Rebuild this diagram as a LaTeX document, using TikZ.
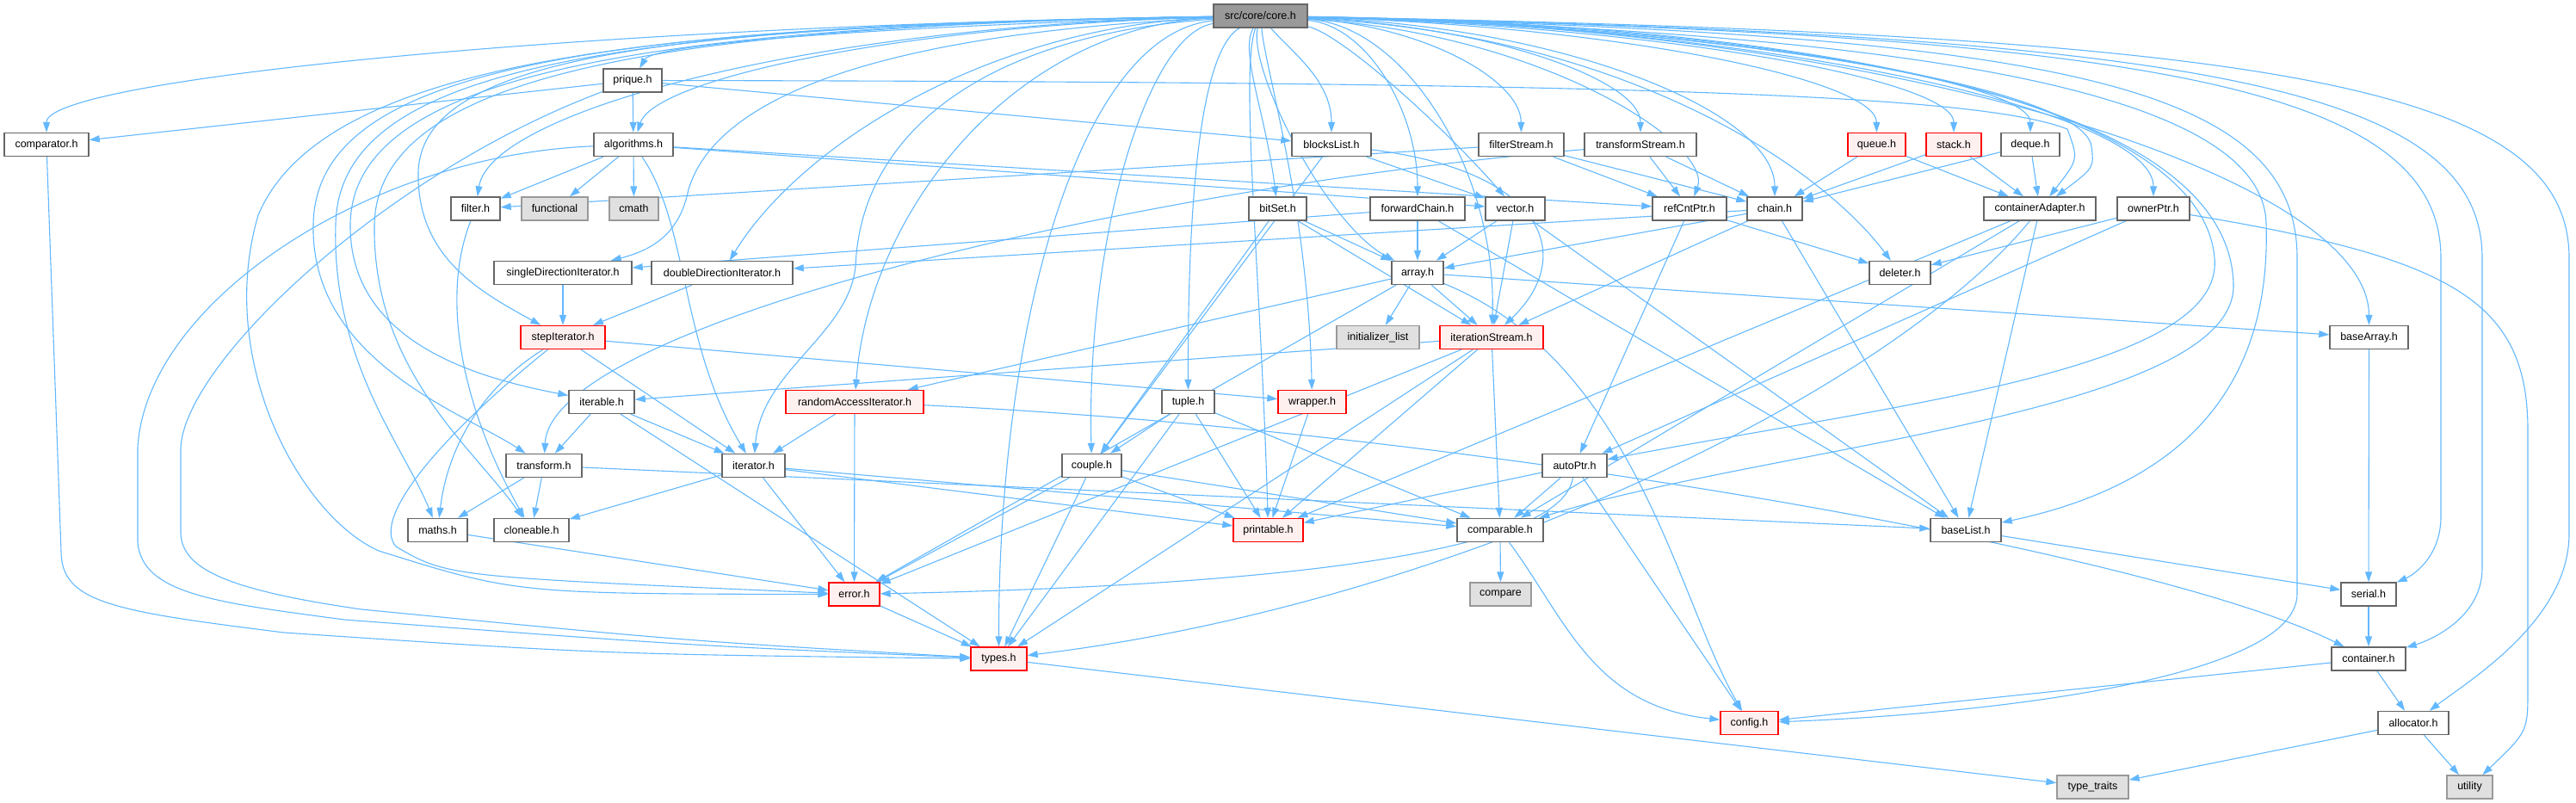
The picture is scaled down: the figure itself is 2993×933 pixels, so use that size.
\documentclass[tikz,border=0pt]{standalone}
\usepackage{fontspec}
\setmainfont{Liberation Sans}
\usetikzlibrary{arrows.meta}
\definecolor{eb}{HTML}{63B8FF}
\definecolor{gfour}{HTML}{666666}
\definecolor{gsix}{HTML}{999999}
\definecolor{gsys}{HTML}{E0E0E0}
\definecolor{pinkbg}{HTML}{FFF0F0}
\definecolor{redb}{HTML}{FF0000}
\pgfdeclarelayer{bg}
\pgfsetlayers{bg,main}
\tikzset{
 nd/.style={draw=gfour, fill=white, line width=1.4pt, minimum height=27pt, inner sep=0pt, font=\fontsize{12.5pt}{14pt}\selectfont},
 rd/.style={nd, draw=redb, fill=pinkbg},
 sys/.style={nd, draw=gsix, fill=gsys},
 topn/.style={nd, fill=gsix, draw=gfour},
 e/.style={draw=eb, line width=1.1pt, -{Triangle[length=12pt,width=8pt]}}
}
\begin{document}
\begin{tikzpicture}[x=1pt,y=-1pt]
\useasboundingbox (0,0) rectangle (2993,933);
% row 0
\node[topn, minimum width=109pt] (core) at (1464.5,18.5) {src/core/core.h};
% row 1
\node[nd, minimum width=68pt] (prique) at (735,93.5) {prique.h};
% row 2
\node[nd, minimum width=98pt] (comparator) at (54,168) {comparator.h};
\node[nd, minimum width=92pt] (algorithms) at (736,168) {algorithms.h};
\node[nd, minimum width=92pt] (blocksList) at (1547,168) {blocksList.h};
\node[nd, minimum width=99pt] (filterStream) at (1767.5,168) {filterStream.h};
\node[nd, minimum width=130pt] (transformStream) at (1906,168) {transformStream.h};
\node[rd, minimum width=67pt] (queue) at (2180.5,168) {queue.h};
\node[rd, minimum width=64pt] (stack) at (2270,168) {stack.h};
\node[nd, minimum width=68pt] (deque) at (2359,168) {deque.h};
% row 3
\node[nd, minimum width=57pt] (filter) at (552.5,242.5) {filter.h};
\node[sys, minimum width=77pt] (functional) at (644.5,242.5) {functional};
\node[sys, minimum width=57pt] (cmath) at (736.5,242.5) {cmath};
\node[nd, minimum width=67pt] (bitSet) at (1484.5,242.5) {bitSet.h};
\node[nd, minimum width=110pt] (forwardChain) at (1647,242.5) {forwardChain.h};
\node[nd, minimum width=69pt] (vector) at (1760.5,242.5) {vector.h};
\node[nd, minimum width=86pt] (refCntPtr) at (1963,242.5) {refCntPtr.h};
\node[nd, minimum width=64pt] (chain) at (2062,242.5) {chain.h};
\node[nd, minimum width=130pt] (containerAdapter) at (2370,242.5) {containerAdapter.h};
\node[nd, minimum width=84pt] (ownerPtr) at (2502,242.5) {ownerPtr.h};
% row 4
\node[nd, minimum width=160pt] (singleDirectionIterator) at (654,317) {singleDirectionIterator.h};
\node[nd, minimum width=164pt] (doubleDirectionIterator) at (839,317) {doubleDirectionIterator.h};
\node[nd, minimum width=60pt] (array) at (1647,317) {array.h};
\node[nd, minimum width=71pt] (deleter) at (2207.5,317) {deleter.h};
% row 5
\node[rd, minimum width=98pt] (stepIterator) at (654,392) {stepIterator.h};
\node[sys, minimum width=96pt] (initializerlist) at (1601,392) {initializer\_list};
\node[rd, minimum width=120pt] (iterationStream) at (1733,392) {iterationStream.h};
\node[nd, minimum width=91pt] (baseArray) at (2752.5,392) {baseArray.h};
% row 6
\node[nd, minimum width=76pt] (iterable) at (699,467) {iterable.h};
\node[rd, minimum width=160pt] (randomAccessIterator) at (993,467) {randomAccessIterator.h};
\node[nd, minimum width=61pt] (tuple) at (1380.5,467) {tuple.h};
\node[rd, minimum width=79pt] (wrapper) at (1524.5,467) {wrapper.h};
% row 7
\node[nd, minimum width=88pt] (transform) at (632,541) {transform.h};
\node[nd, minimum width=73pt] (iterator) at (875.5,541) {iterator.h};
\node[nd, minimum width=69pt] (couple) at (1268.5,541) {couple.h};
\node[nd, minimum width=75pt] (autoPtr) at (1829.5,541) {autoPtr.h};
% row 8
\node[nd, minimum width=69pt] (maths) at (508.5,616) {maths.h};
\node[nd, minimum width=87pt] (cloneable) at (617.5,616) {cloneable.h};
\node[rd, minimum width=81pt] (printable) at (1473.5,616) {printable.h};
\node[nd, minimum width=100pt] (comparable) at (1743,616) {comparable.h};
\node[nd, minimum width=82pt] (baseList) at (2284,616) {baseList.h};
% row 9
\node[rd, minimum width=59pt] (error) at (992.5,690.5) {error.h};
\node[sys, minimum width=71pt] (compare) at (1743.5,690.5) {compare};
\node[nd, minimum width=64pt] (serial) at (2752,690.5) {serial.h};
% row 10
\node[rd, minimum width=65pt] (types) at (1160.5,765.5) {types.h};
\node[nd, minimum width=86pt] (container) at (2752,765.5) {container.h};
% row 11
\node[rd, minimum width=67pt] (config) at (2032.5,840) {config.h};
\node[nd, minimum width=82pt] (allocator) at (2804,840) {allocator.h};
% row 12
\node[sys, minimum width=83pt] (typetraits) at (2431.5,914.5) {type\_traits};
\node[sys, minimum width=53pt] (utility) at (2869.5,914.5) {utility};

\begin{pgfonlayer}{bg}
% ---- core.h edges (left) ----
\draw[e] (core) .. controls (1039,30) and (760,50) .. (prique);
\draw[e] (core) .. controls (664,30) and (54,93) .. (comparator);
\draw[e] (core) .. controls (1039,30) and (760,93) .. (algorithms);
\draw[e] (core) .. controls (938,30) and (570,130) .. (filter);
\draw[e] (core) .. controls (1000,40) and (830,120) .. (800,220) .. controls (790,270) and (760,290) .. (singleDirectionIterator);
\draw[e] (core) .. controls (1150,30) and (930,168) .. (doubleDirectionIterator);
\draw[e] (core) .. controls (800,30) and (490,60) .. (486,200) .. controls (484,300) and (560,340) .. (stepIterator);
\draw[e] (core) .. controls (730,30) and (410,90) .. (407,260) .. controls (405,400) and (560,440) .. (iterable);
\draw[e] (core) .. controls (1181,30) and (1010,243) .. (randomAccessIterator);
\draw[e] (core) .. controls (1393,60) and (1380,243) .. (tuple);
\draw[e] (core) .. controls (680,30) and (368,80) .. (364,260) .. controls (360,420) and (540,480) .. (transform);
\draw[e] (core) .. controls (1150,40) and (1000,150) .. (994,310) .. controls (985,390) and (885,430) .. (iterator);
\draw[e] (core) .. controls (1332,40) and (1262,280) .. (couple);
\draw[e] (core) .. controls (700,30) and (395,80) .. (390,260) .. controls (385,420) and (470,520) .. (maths);
\draw[e] (core) .. controls (750,30) and (440,90) .. (435,260) .. controls (432,430) and (550,520) .. (cloneable);
\draw[e] (core) .. controls (1250,40) and (1160,390) .. (types);
\draw[e] (core) .. controls (800,30) and (380,60) .. (300,250) .. controls (250,420) and (350,600) .. (440,640) .. controls (600,690) .. (error);
% ---- core.h edges (middle) ----
\draw[e] (core) .. controls (1440,60) and (1470,130) .. (bitSet);
\draw[e] (core) .. controls (1500,60) and (1547,93) .. (blocksList);
\draw[e] (core) .. controls (1440,80) and (1465,317) .. (printable);
\draw[e] (core) .. controls (1470,80) and (1520,243) .. (wrapper);
\draw[e] (core) .. controls (1450,80) and (1540,260) .. (array);
% ---- core.h edges (right) ----
\draw[e] (core) .. controls (1655,30) and (1767,93) .. (filterStream);
\draw[e] (core) .. controls (1732,30) and (1906,93) .. (transformStream);
\draw[e] (core) .. controls (1882,30) and (2180,93) .. (queue);
\draw[e] (core) .. controls (1932,30) and (2270,93) .. (stack);
\draw[e] (core) .. controls (1981,30) and (2359,93) .. (deque);
\draw[e] (core) .. controls (1589,30) and (1647,130) .. (forwardChain);
\draw[e] (core) .. controls (1560,40) and (1680,150) .. (vector);
\draw[e] (core) .. controls (1800,40) and (1990,170) .. (refCntPtr);
\draw[e] (core) .. controls (1818,30) and (2062,130) .. (chain);
\draw[e] (core) .. controls (2000,30) and (2420,100) .. (2430,170) .. controls (2433,195) .. (containerAdapter);
\draw[e] (core) .. controls (2060,30) and (2502,130) .. (ownerPtr);
\draw[e] (core) .. controls (1900,40) and (2120,200) .. (deleter);
\draw[e] (core) .. controls (1637,30) and (1740,205) .. (iterationStream);
\draw[e] (core) .. controls (2197,30) and (2752,205) .. (baseArray);
\draw[e] (core) .. controls (2200,30) and (2560,140) .. (2573,300) .. controls (2585,430) and (2200,470) .. (autoPtr);
\draw[e] (core) .. controls (2250,35) and (2590,150) .. (2595,330) .. controls (2600,480) and (2050,520) .. (comparable);
\draw[e] (core) .. controls (2300,40) and (2630,120) .. (2633,260) .. controls (2640,480) and (2500,570) .. (baseList);
\draw[e] (core) .. controls (2400,40) and (2669,100) .. (2669,300) -- (2669,690) .. controls (2669,790) and (2300,830) .. (config);
\draw[e] (core) .. controls (2500,40) and (2836,100) .. (2836,300) -- (2836,600) .. controls (2836,650) and (2800,670) .. (serial);
\draw[e] (core) .. controls (2550,40) and (2884,100) .. (2884,300) -- (2884,660) .. controls (2884,720) and (2820,745) .. (container);
\draw[e] (core) .. controls (2650,40) and (2985,100) .. (2985,300) -- (2985,620) .. controls (2985,720) and (2870,790) .. (allocator);
% ---- other edges ----
\draw[e] (prique) -- (comparator);
\draw[e] (prique) -- (algorithms);
\draw[e] (prique) -- (blocksList);
\draw[e] (prique) .. controls (1900,95) and (2300,110) .. (2402,150) .. controls (2415,185) .. (containerAdapter);
\draw[e] (prique) .. controls (450,200) and (215,420) .. (210,520) -- (210,620) .. controls (212,660) and (260,685) .. (420,708) .. controls (800,745) .. (types);
\draw[e] (comparator) -- (71,640) .. controls (71,700) and (130,710) .. (330,735) .. controls (700,760) .. (types);
\draw[e] (algorithms) -- (filter);
\draw[e] (algorithms) -- (functional);
\draw[e] (algorithms) -- (cmath);
\draw[e] (algorithms) -- (refCntPtr);
\draw[e] (algorithms) -- (vector);
\draw[e] (algorithms) .. controls (800,260) and (790,400) .. (iterator);
\draw[e] (algorithms) .. controls (430,180) and (170,350) .. (160,520) -- (160,630) .. controls (165,690) and (250,700) .. (400,720) .. controls (800,750) .. (types);
\draw[e] (blocksList) -- (vector);
\draw[e] (blocksList) -- (couple);
\draw[e] (blocksList) .. controls (1800,200) and (1830,300) .. (iterationStream);
\draw[e] (filterStream) -- (filter);
\draw[e] (filterStream) -- (refCntPtr);
\draw[e] (filterStream) -- (chain);
\draw[e] (transformStream) .. controls (1300,220) and (640,380) .. (transform);
\draw[e] (transformStream) -- (refCntPtr);
\draw[e] (transformStream) -- (chain);
\draw[e] (queue) -- (chain);
\draw[e] (queue) -- (containerAdapter);
\draw[e] (stack) -- (chain);
\draw[e] (stack) -- (containerAdapter);
\draw[e] (deque) -- (chain);
\draw[e] (deque) -- (containerAdapter);
\draw[e] (filter) .. controls (510,350) and (540,480) .. (cloneable);
\draw[e] (bitSet) -- (array);
\draw[e] (bitSet) -- (couple);
\draw[e] (bitSet) -- (iterationStream);
\draw[e] (forwardChain) -- (singleDirectionIterator);
\draw[e] (forwardChain) -- (array);
\draw[e] (forwardChain) -- (baseList);
\draw[e] (vector) -- (array);
\draw[e] (vector) -- (iterationStream);
\draw[e] (vector) -- (baseList);
\draw[e] (refCntPtr) -- (autoPtr);
\draw[e] (refCntPtr) -- (deleter);
\draw[e] (chain) -- (doubleDirectionIterator);
\draw[e] (chain) -- (array);
\draw[e] (chain) -- (iterationStream);
\draw[e] (chain) -- (baseList);
\draw[e] (containerAdapter) -- (baseList);
\draw[e] (containerAdapter) .. controls (2200,450) and (1700,700) .. (types);
\draw[e] (containerAdapter) -- (printable);
\draw[e] (containerAdapter) -- (comparable);
\draw[e] (ownerPtr) -- (deleter);
\draw[e] (ownerPtr) -- (autoPtr);
\draw[e] (ownerPtr) .. controls (2850,300) and (2937,350) .. (2937,500) -- (2937,800) .. controls (2937,850) .. (utility);
\draw[e] (singleDirectionIterator) -- (stepIterator);
\draw[e] (doubleDirectionIterator) -- (stepIterator);
\draw[e] (array) -- (initializerlist);
\draw[e] (array) -- (iterationStream);
\draw[e] (array) -- (randomAccessIterator);
\draw[e] (array) -- (baseArray);
\draw[e] (array) .. controls (1900,420) and (1950,700) .. (config);
\draw[e] (array) -- (error);
\draw[e] (stepIterator) -- (iterator);
\draw[e] (stepIterator) .. controls (560,450) and (520,520) .. (maths);
\draw[e] (stepIterator) .. controls (520,500) and (430,600) .. (460,635) .. controls (520,670) .. (error);
\draw[e] (stepIterator) -- (wrapper);
\draw[e] (iterationStream) -- (iterable);
\draw[e] (iterationStream) -- (comparable);
\draw[e] (iterationStream) -- (printable);
\draw[e] (iterationStream) -- (types);
\draw[e] (iterationStream) -- (error);
\draw[e] (baseArray) -- (serial);
\draw[e] (iterable) -- (transform);
\draw[e] (iterable) -- (iterator);
\draw[e] (iterable) -- (types);
\draw[e] (randomAccessIterator) -- (iterator);
\draw[e] (randomAccessIterator) -- (error);
\draw[e] (randomAccessIterator) .. controls (1700,500) and (2500,640) .. (container);
\draw[e] (tuple) -- (couple);
\draw[e] (tuple) -- (printable);
\draw[e] (tuple) -- (comparable);
\draw[e] (tuple) -- (types);
\draw[e] (wrapper) -- (printable);
\draw[e] (transform) -- (maths);
\draw[e] (transform) -- (cloneable);
\draw[e] (transform) -- (baseList);
\draw[e] (iterator) -- (cloneable);
\draw[e] (iterator) -- (error);
\draw[e] (iterator) -- (printable);
\draw[e] (iterator) -- (comparable);
\draw[e] (couple) -- (printable);
\draw[e] (couple) -- (comparable);
\draw[e] (couple) -- (error);
\draw[e] (couple) -- (types);
\draw[e] (autoPtr) -- (printable);
\draw[e] (autoPtr) -- (comparable);
\draw[e] (autoPtr) .. controls (1815,640) and (1500,680) .. (error);
\draw[e] (autoPtr) -- (config);
\draw[e] (maths) -- (error);
\draw[e] (comparable) -- (compare);
\draw[e] (comparable) .. controls (1820,720) and (1850,820) .. (config);
\draw[e] (baseList) -- (serial);
\draw[e] (error) -- (types);
\draw[e] (serial) -- (container);
\draw[e] (types) -- (typetraits);
\draw[e] (container) -- (allocator);
\draw[e] (container) -- (config);
\draw[e] (allocator) -- (typetraits);
\draw[e] (allocator) -- (utility);
\end{pgfonlayer}
\end{tikzpicture}
\end{document}
